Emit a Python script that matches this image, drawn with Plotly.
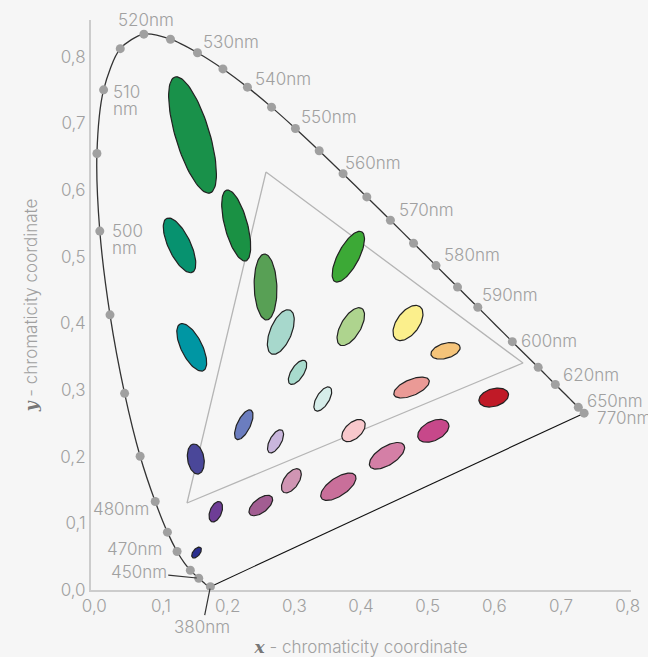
import numpy as np
import plotly.graph_objects as go

# ---------------- data ----------------
# CIE 1931 spectral locus (wavelength nm, x, y)
locus_wl = [380, 385, 390, 395, 400, 405, 410, 415, 420, 425, 430, 435, 440, 445, 450, 455,
            460, 465, 470, 475, 480, 485, 490, 495, 500, 505, 510, 515, 520, 525, 530, 535,
            540, 545, 550, 555, 560, 565, 570, 575, 580, 585, 590, 595, 600, 605, 610, 615,
            620, 625, 630, 635, 640, 645, 650, 655, 660, 665, 670, 675, 680, 685, 690, 695, 770]
locus_x = [0.1741, 0.1740, 0.1738, 0.1736, 0.1733, 0.1730, 0.1726, 0.1721, 0.1714, 0.1703,
           0.1689, 0.1669, 0.1644, 0.1611, 0.1566, 0.1510, 0.1440, 0.1355, 0.1241, 0.1096,
           0.0913, 0.0687, 0.0454, 0.0235, 0.0082, 0.0039, 0.0139, 0.0389, 0.0743, 0.1142,
           0.1547, 0.1929, 0.2296, 0.2658, 0.3016, 0.3373, 0.3731, 0.4087, 0.4441, 0.4788,
           0.5125, 0.5448, 0.5752, 0.6029, 0.6270, 0.6482, 0.6658, 0.6801, 0.6915, 0.7006,
           0.7079, 0.7140, 0.7190, 0.7230, 0.7260, 0.7283, 0.7300, 0.7311, 0.7320, 0.7327,
           0.7334, 0.7340, 0.7344, 0.7346, 0.7347]
locus_y = [0.0050, 0.0050, 0.0049, 0.0049, 0.0048, 0.0048, 0.0048, 0.0048, 0.0051, 0.0058,
           0.0069, 0.0086, 0.0109, 0.0138, 0.0177, 0.0227, 0.0297, 0.0399, 0.0578, 0.0868,
           0.1327, 0.2007, 0.2950, 0.4127, 0.5384, 0.6548, 0.7502, 0.8120, 0.8338, 0.8262,
           0.8059, 0.7816, 0.7543, 0.7243, 0.6923, 0.6589, 0.6245, 0.5896, 0.5547, 0.5202,
           0.4866, 0.4544, 0.4242, 0.3965, 0.3725, 0.3514, 0.3340, 0.3197, 0.3083, 0.2993,
           0.2920, 0.2859, 0.2809, 0.2770, 0.2740, 0.2717, 0.2700, 0.2689, 0.2680, 0.2673,
           0.2666, 0.2660, 0.2656, 0.2654, 0.2653]

# wavelengths marked with a dot on the locus
marked_wl = [380, 450, 460, 470, 475, 480, 485, 490, 495, 500, 505, 510, 515, 520, 525, 530,
             535, 540, 545, 550, 555, 560, 565, 570, 575, 580, 585, 590, 600, 610, 620, 650, 770]

# wavelength labels
label_wl = [520, 530, 540, 550, 560, 570, 580, 590, 600, 620, 650, 770, 510, 510, 500, 500, 480, 470]
label_text = ["520nm", "530nm", "540nm", "550nm", "560nm", "570nm", "580nm", "590nm", "600nm",
              "620nm", "650nm", "770nm", "510", "nm", "500", "nm", "480nm", "470nm"]
leader_wl = [450, 380]
leader_text = ["450nm", "380nm"]

# gamut triangle
tri_x = [0.2575, 0.643, 0.139]
tri_y = [0.627, 0.3405, 0.1305]

# ellipses: centre, semi-axes, angle (deg), fill colour
ell_x = [0.1473, 0.1278, 0.2128, 0.2568, 0.2797, 0.3810, 0.3847, 0.4705, 0.5268, 0.4758,
         0.5991, 0.5085, 0.1461, 0.3048, 0.3427, 0.2242, 0.2718, 0.1522, 0.1822, 0.2497,
         0.2955, 0.3660, 0.4390, 0.3888, 0.1533]
ell_y = [0.6825, 0.5170, 0.5467, 0.4545, 0.3870, 0.5000, 0.3950, 0.4005, 0.3588, 0.3037,
         0.2887, 0.2388, 0.3640, 0.3265, 0.2865, 0.2479, 0.2230, 0.1965, 0.1174, 0.1267,
         0.1638, 0.1549, 0.2013, 0.2392, 0.0562]
ell_a = [0.0909, 0.0448, 0.0550, 0.0495, 0.0357, 0.0424, 0.0319, 0.0304, 0.0226, 0.0285,
         0.0228, 0.0252, 0.0391, 0.0208, 0.0205, 0.0244, 0.0193, 0.0228, 0.0162, 0.0210,
         0.0208, 0.0306, 0.0301, 0.0210, 0.0096]
ell_b = [0.0255, 0.0166, 0.0170, 0.0170, 0.0160, 0.0156, 0.0148, 0.0168, 0.0112, 0.0120,
         0.0133, 0.0145, 0.0157, 0.0094, 0.0094, 0.0098, 0.0087, 0.0123, 0.0087, 0.0105,
         0.0109, 0.0136, 0.0139, 0.0120, 0.0052]
ell_angle = [106.8, 115.4, 105, 92, 67.4, 61.9, 59.4, 53.7, 16, 23,
             16, 26.6, 116.5, 57, 58.5, 64, 61, 99.5, 67.5, 38,
             55, 34, 32.5, 42, 51]
ell_color = ["#19914a", "#07926f", "#1a9144", "#58a055", "#a7d8cc", "#3ca936", "#aed48e",
             "#fbef8c", "#f5c47a", "#ea9a96", "#c01a27", "#c7488a", "#0096a3", "#a8dbcd",
             "#d6edea", "#6b7dbf", "#c9b6dc", "#4a4799", "#6e3d96", "#a25d92", "#d095b3",
             "#c96f9a", "#d47fa6", "#f8c8cc", "#2b2f8f"]

tick_vals = [0.0, 0.1, 0.2, 0.3, 0.4, 0.5, 0.6, 0.7, 0.8]
tick_text = ["0,0", "0,1", "0,2", "0,3", "0,4", "0,5", "0,6", "0,7", "0,8"]

# ---------------- styling ----------------
BG = "#f6f6f6"
GREY = "#a0a0a0"
FONT = "Inter"
FS = 17
WEIGHT = 300

# label placement (anchor, xshift px, yshift px)
label_place = {
    0: ("center", 2, 14), 1: ("left", 4, 11), 2: ("left", 6, 8), 3: ("left", 4, 11),
    4: ("left", 0, 11), 5: ("left", 7, 10), 6: ("left", 6, 11), 7: ("left", 2, 12),
    8: ("left", 7, 1), 9: ("left", 6, 9), 10: ("left", 7, 6), 11: ("left", 11, -5),
    12: ("left", 7, -2), 13: ("left", 7, -19), 14: ("left", 10, 0), 15: ("left", 10, -17),
    16: ("right", -4, -7), 17: ("right", -13, 2),
}
leader_place = {0: (-60, -6), 1: (-8, 40)}

pos = {w: (x, y) for w, x, y in zip(locus_wl, locus_x, locus_y)}

fig = go.Figure()

# gamut triangle
fig.add_trace(go.Scatter(x=tri_x + tri_x[:1], y=tri_y + tri_y[:1], mode="lines",
                         line=dict(color="#b5b5b5", width=1.3), hoverinfo="skip", showlegend=False))

# ellipses
t = np.linspace(0, 2 * np.pi, 90)
for cx, cy, a, b, ang, col in zip(ell_x, ell_y, ell_a, ell_b, ell_angle, ell_color):
    th = np.deg2rad(ang)
    ex = cx + a * np.cos(t) * np.cos(th) - b * np.sin(t) * np.sin(th)
    ey = cy + a * np.cos(t) * np.sin(th) + b * np.sin(t) * np.cos(th)
    fig.add_trace(go.Scatter(x=ex, y=ey, mode="lines", fill="toself", fillcolor=col,
                             line=dict(color="#222222", width=1.2), hoverinfo="skip",
                             showlegend=False))

# spectral locus and line of purples
fig.add_trace(go.Scatter(x=locus_x, y=locus_y, mode="lines",
                         line=dict(color="#333333", width=1.3, shape="spline", smoothing=0.8),
                         hoverinfo="skip", showlegend=False))
fig.add_trace(go.Scatter(x=[locus_x[-1], locus_x[0]], y=[locus_y[-1], locus_y[0]], mode="lines",
                         line=dict(color="#111111", width=1.1), hoverinfo="skip", showlegend=False))

# dots
fig.add_trace(go.Scatter(x=[pos[w][0] for w in marked_wl], y=[pos[w][1] for w in marked_wl],
                         mode="markers", marker=dict(color="#a0a0a0", size=9), cliponaxis=False,
                         hoverinfo="skip", showlegend=False))

lab_font = dict(family=FONT, size=FS, color=GREY, weight=WEIGHT)
annotations = []
for i, (w, txt) in enumerate(zip(label_wl, label_text)):
    anc, xs, ys = label_place[i]
    annotations.append(dict(x=pos[w][0], y=pos[w][1], text=txt, showarrow=False,
                            xanchor=anc, yanchor="middle", xshift=xs, yshift=ys, font=lab_font))
for i, (w, txt) in enumerate(zip(leader_wl, leader_text)):
    ax, ay = leader_place[i]
    annotations.append(dict(x=pos[w][0], y=pos[w][1], text=txt, showarrow=True,
                            ax=ax, ay=ay, arrowhead=0, arrowwidth=1.2, arrowcolor="#333333",
                            standoff=2, font=lab_font))

fig.update_layout(
    width=648, height=657,
    margin=dict(l=91, r=17, t=20, b=67),
    paper_bgcolor=BG, plot_bgcolor=BG,
    font=dict(family=FONT, size=FS, color=GREY, weight=WEIGHT),
    annotations=annotations,
)
axis_common = dict(showgrid=False, zeroline=False, showline=True, linecolor="#cccccc", linewidth=2,
                   tickvals=tick_vals, ticktext=tick_text, tickfont=lab_font,
                   ticks="", automargin=False, fixedrange=True)
fig.update_xaxes(range=[-0.005, 0.805],
                 title=dict(text='<span style="font-family:DejaVu Serif;color:#777"><b><i>x</i></b></span> - chromaticity coordinate',
                            font=dict(family=FONT, size=17, color=GREY, weight=WEIGHT), standoff=26),
                 **axis_common)
fig.update_yaxes(range=[0, 0.855],
                 title=dict(text='<span style="font-family:DejaVu Serif;color:#777"><b><i>y</i></b></span> - chromaticity coordinate',
                            font=dict(family=FONT, size=17, color=GREY, weight=WEIGHT), standoff=18),
                 **axis_common)

fig.write_html("out.html", config={"displayModeBar": False},
               post_script="document.body.style.margin='0';document.body.style.background='#f6f6f6';")
